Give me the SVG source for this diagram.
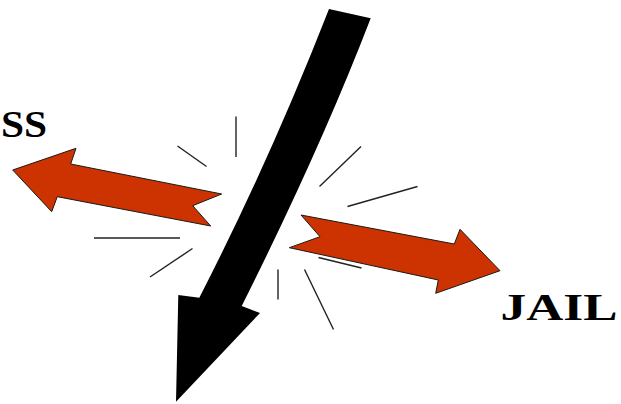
<svg xmlns="http://www.w3.org/2000/svg" width="621" height="404" viewBox="0 0 621 404">
<style>
.red{fill:#cc3300;stroke:#1a1a1a;stroke-width:1;stroke-linejoin:miter}
.blk{fill:#000}
.ray{stroke:#222;stroke-width:1.4;fill:none}
.lbl{font-family:"Liberation Serif","Times New Roman",serif;font-weight:bold;font-size:37px;fill:#000}
</style>
<rect width="621" height="404" fill="#fff"/>
<g id="burst">
<line class="ray" x1="236" y1="116.5" x2="236" y2="157"/>
<line class="ray" x1="177.5" y1="146" x2="206.5" y2="166.5"/>
<line class="ray" x1="361" y1="146.5" x2="319.5" y2="186.5"/>
<line class="ray" x1="347.5" y1="206.5" x2="417.5" y2="186.5"/>
<line class="ray" x1="94" y1="238" x2="180" y2="238"/>
<line class="ray" x1="192.5" y1="248.5" x2="150" y2="277"/>
<line class="ray" x1="318.5" y1="257.5" x2="361.5" y2="268" stroke-width="2"/>
<line class="ray" x1="278" y1="269.5" x2="278" y2="299.5"/>
<line class="ray" x1="304.5" y1="269.5" x2="333.5" y2="329.5"/>
</g>
<g id="left-arrow">
<polygon class="red" points="12.7,170 76,148.3 70.7,164 221.7,194 192.7,205.7 210.7,226 57.3,196.7 51.7,211.7"/>
</g>
<g id="right-arrow">
<polygon class="red" points="301,215 454.3,244 460,229.3 500,270.7 435.7,293.3 438.3,280 289.3,247.7 320,236.7"/>
</g>
<g id="down-arrow">
<path class="blk" d="M329,9 L370.7,18.3 Q320,150 241.7,306 L260,313 L176,401.7 L178.3,295 L199.3,297.7 Q270,160 329,9 Z"/>
</g>
<g id="labels">
<text class="lbl" x="1" y="137.3" textLength="46" lengthAdjust="spacingAndGlyphs">SS</text>
<text class="lbl" x="500.5" y="320" textLength="117" lengthAdjust="spacingAndGlyphs">JAIL</text>
</g>
</svg>
